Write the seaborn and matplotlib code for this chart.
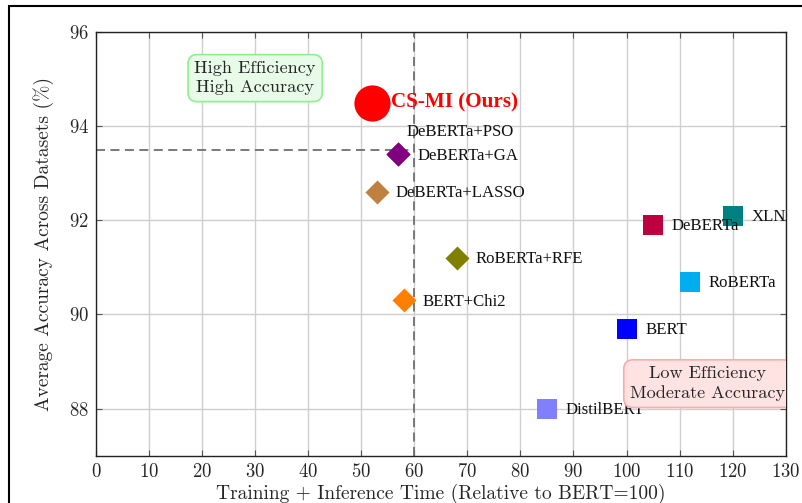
import matplotlib
matplotlib.use("Agg")
import matplotlib.pyplot as plt
import matplotlib.patches as mpatches
import seaborn as sns
import pandas as pd

# Models: relative time cost (BERT = 100) vs. average accuracy
models = ["DeBERTa+PSO", "CS-MI (Ours)", "DeBERTa+GA", "DeBERTa+LASSO", "RoBERTa+RFE",
          "BERT+Chi2", "DeBERTa", "XLN", "RoBERTa", "BERT", "DistilBERT"]
time_cost = [57, 52, 57, 53, 68, 58, 105, 120, 112, 100, 85]
accuracy = [93.4, 94.5, 93.4, 92.6, 91.2, 90.3, 91.9, 92.1, 90.7, 89.7, 88.0]
colors = ["#800080", "#ff0000", "#800080", "#bf8040", "#808000", "#ff8000",
          "#bf0040", "#008080", "#00aeef", "#0000ff", "#8080ff"]
markers = ["D", "o", "D", "D", "D", "D", "s", "s", "s", "s", "s"]
sizes = [150, 680, 150, 150, 150, 150, 190, 190, 190, 190, 190]

x_ticks = list(range(0, 131, 10))
y_ticks = [88, 90, 92, 94, 96]
time_threshold = 60
acc_threshold = 93.5

df = pd.DataFrame({"model": models, "time": time_cost, "acc": accuracy,
                   "color": colors, "marker": markers, "size": sizes})

sns.set_theme(style="whitegrid")
plt.rcParams["font.family"] = ["cmr10", "DejaVu Serif"]
plt.rcParams["axes.formatter.use_mathtext"] = True
plt.rcParams["mathtext.fontset"] = "cm"

fig = plt.figure(figsize=(8.03, 5.03), dpi=100)
ax = fig.add_axes([96 / 803, 1 - 455.7 / 503, (785.7 - 96) / 803, (455.7 - 32) / 503])

for _, row in df.iterrows():
    sns.scatterplot(data=df[df["model"] == row["model"]], x="time", y="acc", ax=ax,
                    color=row["color"], marker=row["marker"], s=row["size"],
                    linewidth=0, zorder=4, legend=False)

ax.set_xlim(0, 130)
ax.set_ylim(87, 96)
ax.set_xticks(x_ticks)
ax.set_yticks(y_ticks)
ax.grid(True, color="#cfcfcf", linewidth=1.0)
ax.set_axisbelow(True)
for sp in ax.spines.values():
    sp.set_color("#222222")
    sp.set_linewidth(1.0)
ax.tick_params(axis="both", which="both", direction="in", length=4, width=0.8,
               color="#555555", labelsize=13.5, top=True, right=True,
               bottom=True, left=True)
ax.tick_params(axis="x", pad=5)
ax.tick_params(axis="y", pad=5)

# threshold guides
ax.axvline(time_threshold, color="#707070", linestyle=(0, (5, 3)), linewidth=1.3, zorder=2)
ax.plot([0, time_threshold], [acc_threshold, acc_threshold], color="#707070",
        linestyle=(0, (5, 3)), linewidth=1.3, zorder=2)

ax.set_xlabel("Training + Inference Time (Relative to BERT=100)", fontsize=14, labelpad=2)
ax.set_ylabel("Average Accuracy Across Datasets (%)", fontsize=14, labelpad=11)

# point labels
label_font = ["Liberation Serif", "DejaVu Serif"]
for m, xv, yv in zip(models, time_cost, accuracy):
    if m == "CS-MI (Ours)":
        ax.annotate(m, (xv, yv), xytext=(14, 0), textcoords="offset points",
                    ha="left", va="center", fontsize=15.2, fontweight="bold",
                    color="#ff0000", family=label_font, zorder=5)
    elif m == "DeBERTa+PSO":
        ax.annotate(m, (xv, yv), xytext=(6, 16), textcoords="offset points",
                    ha="left", va="center", fontsize=12.1, color="#111111",
                    family=label_font, zorder=5)
    else:
        ax.annotate(m, (xv, yv), xytext=(13.5, -1), textcoords="offset points",
                    ha="left", va="center", fontsize=12.1, color="#111111",
                    family=label_font, zorder=5)

# region boxes
ax.text(30, 95.02, "High Efficiency\nHigh Accuracy", ha="center", va="center",
        fontsize=13.1, linespacing=1.3, zorder=6,
        bbox=dict(boxstyle="round,pad=0.35,rounding_size=0.5", fc="#e8fbe8",
                  ec="#90ee90", lw=1.2))
ax.text(115.3, 88.53, "Low Efficiency\nModerate Accuracy", ha="center", va="center",
        fontsize=13.1, linespacing=1.3, zorder=6, clip_on=True,
        bbox=dict(boxstyle="round,pad=0.35,rounding_size=0.5", fc="#ffe2e2",
                  ec="#ffaaaa", lw=1.2))

# outer frame
fig.patches.append(mpatches.Rectangle((9 / 803, -0.1), 1.2, 1 - 6 / 503 + 0.1,
                                      transform=fig.transFigure, fill=False,
                                      ec="black", lw=1.5, zorder=0))

fig.savefig("out.png", dpi=100)
